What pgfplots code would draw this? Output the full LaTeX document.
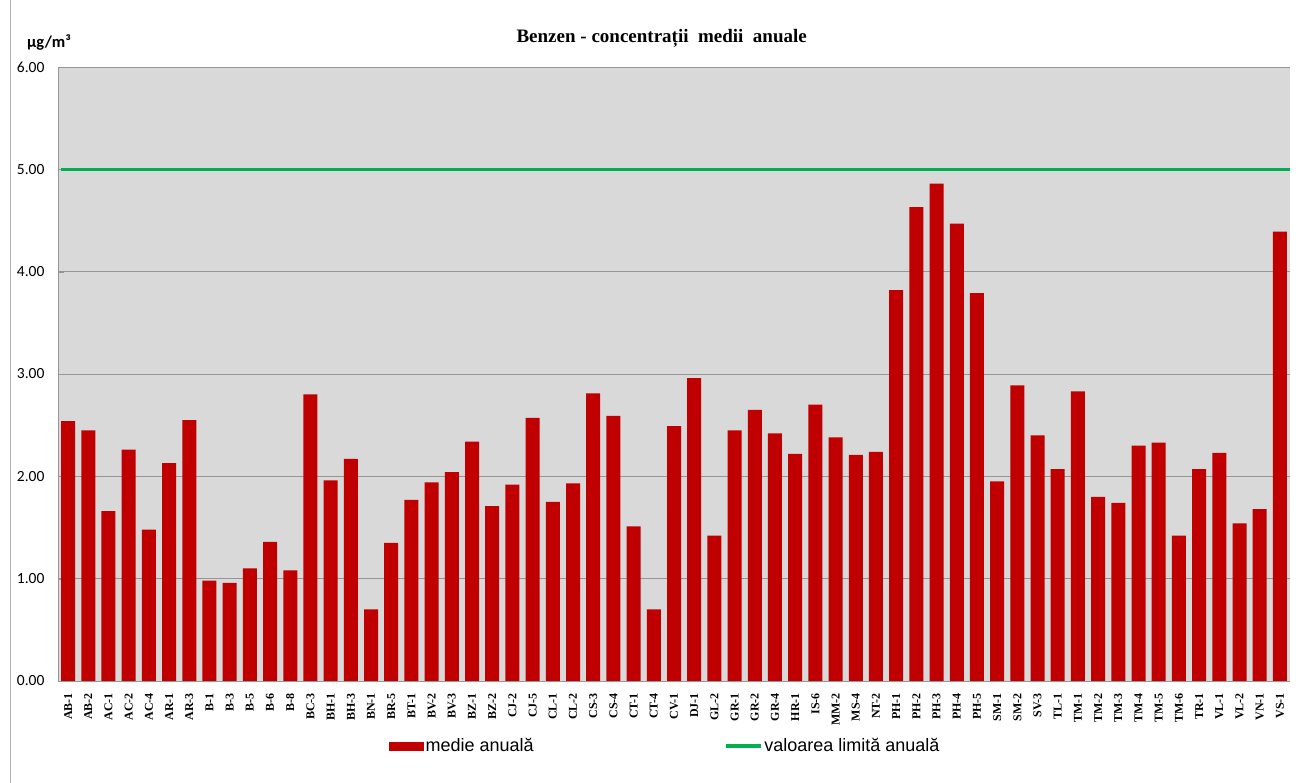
\documentclass[border=0pt]{standalone}
\usepackage{pgfplots}
\pgfplotsset{compat=1.18}
\usepackage{fontspec}
\setmainfont{Liberation Serif}
\newfontfamily\carlito{Carlito}
\newfontfamily\arial{Liberation Sans}
\definecolor{barred}{RGB}{192,0,0}
\definecolor{limgreen}{RGB}{0,176,80}
\definecolor{plotbg}{RGB}{217,217,217}
\definecolor{gridgray}{RGB}{150,150,150}
\begin{document}
\begin{tikzpicture}[x=1pt,y=1pt]
\path[use as bounding box] (-58,-102) rectangle (1247,681);
\draw[gray!60, line width=0.8pt] (-48,-102) -- (-48,681);
\begin{axis}[
  at={(0,0)}, anchor=south west,
  scale only axis, width=1232pt, height=614pt,
  xmin=-0.5, xmax=60.5, ymin=0, ymax=6,
  axis background/.style={fill=plotbg},
  axis line style={gridgray},
  axis x line*=bottom, axis y line*=left,
  ytick={0,1,2,3,4,5,6},
  ymajorgrids, major grid style={gridgray, line width=0.6pt},
  yticklabel style={/pgf/number format/fixed, /pgf/number format/fixed zerofill, /pgf/number format/precision=2, /pgf/number format/assume math mode=true, font=\carlito\fontsize{15.5}{17}\selectfont, anchor=east, xshift=-10pt},
  ytick style={gridgray}, major tick length=6pt,
  xtick=data, xtick style={draw=none},
  xticklabels={AB-1,AB-2,AC-1,AC-2,AC-4,AR-1,AR-3,B-1,B-3,B-5,B-6,B-8,BC-3,BH-1,BH-3,BN-1,BR-5,BT-1,BV-2,BV-3,BZ-1,BZ-2,CJ-2,CJ-5,CL-1,CL-2,CS-3,CS-4,CT-1,CT-4,CV-1,DJ-1,GL-2,GR-1,GR-2,GR-4,HR-1,IS-6,MM-2,MS-4,NT-2,PH-1,PH-2,PH-3,PH-4,PH-5,SM-1,SM-2,SV-3,TL-1,TM-1,TM-2,TM-3,TM-4,TM-5,TM-6,TR-1,VL-1,VL-2,VN-1,VS-1},
  xticklabel style={rotate=90, anchor=east, font=\bfseries\fontsize{12}{13}\selectfont, inner sep=1pt, xshift=-11pt},
  legend style={at={(0.4927,-0.1059)}, anchor=center, draw=none, fill=none, legend columns=2, font=\arial\fontsize{18}{20}\selectfont, /tikz/every even column/.append style={column sep=188pt}},
  legend cell align=left,
  clip=false,
]
\addplot[ybar, bar width=14pt, fill=barred, draw=none,
  legend image code/.code={\fill[barred] (0pt,-4.5pt) rectangle (35pt,4.5pt);}]
coordinates {
(0,2.54)(1,2.45)(2,1.66)(3,2.26)(4,1.48)(5,2.13)(6,2.55)(7,0.98)(8,0.96)(9,1.10)
(10,1.36)(11,1.08)(12,2.80)(13,1.96)(14,2.17)(15,0.70)(16,1.35)(17,1.77)(18,1.94)(19,2.04)
(20,2.34)(21,1.71)(22,1.92)(23,2.57)(24,1.75)(25,1.93)(26,2.81)(27,2.59)(28,1.51)(29,0.70)
(30,2.49)(31,2.96)(32,1.42)(33,2.45)(34,2.65)(35,2.42)(36,2.22)(37,2.70)(38,2.38)(39,2.21)
(40,2.24)(41,3.82)(42,4.63)(43,4.86)(44,4.47)(45,3.79)(46,1.95)(47,2.89)(48,2.40)(49,2.07)
(50,2.83)(51,1.80)(52,1.74)(53,2.30)(54,2.33)(55,1.42)(56,2.07)(57,2.23)(58,1.54)(59,1.68)
(60,4.39)};
\addlegendentry{medie anuală}
\addplot[limgreen, line width=3.5pt, sharp plot,
  legend image code/.code={\draw[limgreen, line width=3.5pt] (0pt,0pt) -- (35pt,0pt);}]
coordinates {(-0.35,5) (60.5,5)};
\addlegendentry{valoarea limită anuală}
\node[font=\bfseries\fontsize{19}{21}\selectfont] at (rel axis cs:0.490,1.046) {Benzen - concentrații\ \ medii\ \ anuale};
\node[font=\carlito\bfseries\fontsize{16.5}{18}\selectfont] at (rel axis cs:-0.0073,1.0407) {µg/m³};
\end{axis}
\end{tikzpicture}
\end{document}
